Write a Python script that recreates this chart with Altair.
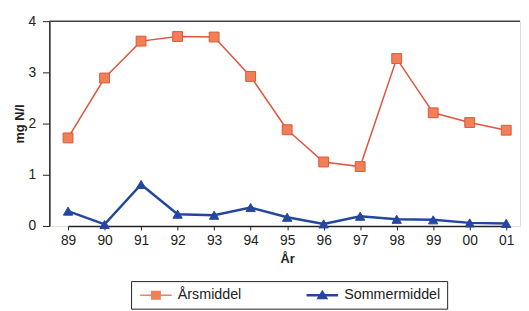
import altair as alt
import pandas as pd

years = ["89", "90", "91", "92", "93", "94", "95", "96", "97", "98", "99", "00", "01"]
aarsmiddel = [1.72, 2.89, 3.61, 3.70, 3.69, 2.92, 1.88, 1.25, 1.16, 3.27, 2.21, 2.02, 1.87]
sommermiddel = [0.29, 0.03, 0.81, 0.23, 0.21, 0.36, 0.17, 0.04, 0.19, 0.13, 0.12, 0.06, 0.05]
series_names = ["Årsmiddel", "Sommermiddel"]
y_ticks = [0, 0.5, 1, 1.5, 2, 2.5, 3, 3.5, 4]

rows = []
for i, yr in enumerate(years):
    rows.append({"år": yr, "serie": series_names[0], "v": aarsmiddel[i]})
    rows.append({"år": yr, "serie": series_names[1], "v": sommermiddel[i]})
df = pd.DataFrame(rows)

RED = "#e0553c"
ORANGE = "#f08058"
BLUE = "#2446a0"
FONT = "Liberation Sans"

x = alt.X(
    "år:O",
    sort=years,
    scale=alt.Scale(type="point", range=[19, 464], padding=0),
    axis=alt.Axis(
        title="År", labelAngle=0, labelFontSize=14, labelColor="#222",
        titleFontSize=13, titleFontWeight="bold", titleColor="#222",
        tickSize=4, tickColor="#222", labelPadding=4, titlePadding=5,
        domainColor="#222", domainWidth=1.5,
    ),
)
y = alt.Y(
    "v:Q",
    scale=alt.Scale(domain=[0, 4]),
    axis=alt.Axis(
        title="mg N/l", values=y_ticks, grid=False,
        labelExpr="datum.value % 1 == 0 ? '' + datum.value : ''",
        labelFontSize=14, labelColor="#222", labelPadding=7,
        tickSize={"condition": {"test": "datum.value % 1 == 0", "value": 7}, "value": 4},
        tickColor="#222", domainColor="#222", domainWidth=1.5,
        titleFontSize=13, titleFontWeight="bold", titleColor="#222", titlePadding=1,
    ),
)

base = alt.Chart(df).encode(x=x, y=y)
is_aar = "datum.serie == 'Årsmiddel'"

lines = base.mark_line().encode(
    detail="serie:N",
    stroke=alt.condition(is_aar, alt.value(RED), alt.value(BLUE)),
    strokeWidth=alt.condition(is_aar, alt.value(1.5), alt.value(2.5)),
)

squares = base.transform_filter("datum.serie == 'Årsmiddel'").mark_point(
    shape="square", filled=True, opacity=1, fill=ORANGE, stroke=RED, strokeWidth=1, size=100)
triangles = base.transform_filter("datum.serie == 'Sommermiddel'").mark_point(
    shape="triangle-up", filled=True, opacity=1, fill=BLUE, stroke=BLUE, strokeWidth=1, size=90)

sq_path = "M-3.2,-0.15H3.2V0.15H-3.2Z M-1,-0.9H1V0.9H-1Z"
tri_path = "M-3.2,-0.25H3.2V0.25H-3.2Z M0,-1.1L1.2,0.8H-1.2Z"

legend_layer = base.transform_filter("false").mark_point(filled=True, size=100, opacity=1).encode(
    color=alt.Color("serie:N", sort=series_names,
                    scale=alt.Scale(domain=series_names, range=[ORANGE, BLUE]),
                    legend=alt.Legend(
                        title=None, orient="none", legendX=83, legendY=264,
                        direction="horizontal", strokeColor="#222", fillColor="white",
                        padding=7, labelFontSize=14.5, labelFont=FONT, labelColor="#222",
                        symbolSize=100, symbolOffset=11, labelOffset=15, columnPadding=64,
                        symbolOpacity=1, symbolStrokeWidth=0,
                    )),
    shape=alt.Shape("serie:N", sort=series_names,
                    scale=alt.Scale(domain=series_names, range=[sq_path, tri_path])),
)

top = alt.Chart(pd.DataFrame({"v": [4]})).mark_rule(color="#444", strokeWidth=1.5).encode(y="v:Q")

chart = alt.layer(lines, squares, triangles, legend_layer, top).properties(
    width=478, height=208,
    autosize=alt.AutoSizeParams(type="none"),
    padding={"left": 42, "top": 11, "right": 1, "bottom": 84},
).configure_view(stroke=None).configure(font=FONT)

chart.save("out.html", embed_options={"renderer": "svg", "actions": False})
